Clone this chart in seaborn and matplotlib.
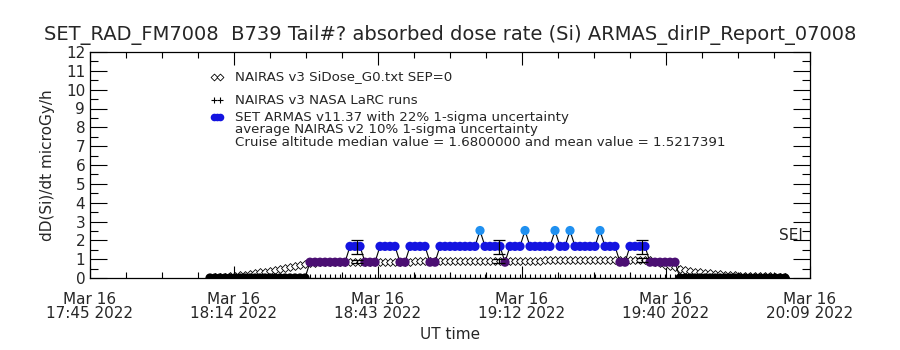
import matplotlib
matplotlib.use('Agg')
import matplotlib.pyplot as plt
import seaborn as sns
import pandas as pd
import numpy as np

# time axis: minutes after 17:45 UT, Mar 16 2022 (one sample per minute)
armas_t = list(range(24, 140))

# SET ARMAS absorbed dose rate (microGy/h)
armas_dose = [
    0, 0, 0, 0, 0, 0, 0, 0, 0, 0, 0, 0, 0, 0, 0, 0, 0, 0, 0, 0,
    0.84, 0.84, 0.84, 0.84, 0.84, 0.84, 0.84, 0.84,
    1.68, 1.68, 1.68,
    0.84, 0.84, 0.84,
    1.68, 1.68, 1.68, 1.68,
    0.84, 0.84,
    1.68, 1.68, 1.68, 1.68,
    0.84, 0.84,
    1.68, 1.68, 1.68, 1.68, 1.68, 1.68, 1.68, 1.68,
    2.52,
    1.68, 1.68, 1.68, 1.68,
    0.84,
    1.68, 1.68, 1.68,
    2.52,
    1.68, 1.68, 1.68, 1.68, 1.68,
    2.52,
    1.68, 1.68,
    2.52,
    1.68, 1.68, 1.68, 1.68, 1.68,
    2.52,
    1.68, 1.68, 1.68,
    0.84, 0.84,
    1.68, 1.68, 1.68, 1.68,
    0.84, 0.84, 0.84, 0.84, 0.84, 0.84,
    0, 0, 0, 0, 0, 0, 0, 0, 0, 0, 0, 0, 0, 0, 0, 0, 0, 0, 0, 0, 0, 0,
]

# NAIRAS v3 SiDose_G0.txt, same minutes
nairas_dose = [
    0.02, 0.03, 0.05, 0.07, 0.09, 0.12, 0.15, 0.18, 0.22, 0.26, 0.30,
    0.34, 0.38, 0.43, 0.48, 0.53, 0.58, 0.64, 0.69, 0.74, 0.79,
    0.82, 0.83, 0.83, 0.84, 0.84, 0.84, 0.85, 0.85, 0.85, 0.85, 0.86,
    0.86, 0.86, 0.86, 0.86, 0.87,
    0.87, 0.87, 0.87, 0.87, 0.88, 0.88, 0.88, 0.88, 0.88, 0.89, 0.89,
    0.89, 0.89, 0.89, 0.90, 0.90, 0.90, 0.90, 0.90, 0.90,
    0.91, 0.91, 0.91, 0.91, 0.91, 0.92, 0.92, 0.92, 0.92, 0.92, 0.93,
    0.93, 0.93, 0.93, 0.93, 0.94, 0.94, 0.94, 0.94, 0.94,
    0.95, 0.95, 0.95, 0.96, 0.96, 0.96, 0.97, 0.97, 0.97, 0.98, 0.98,
    0.95, 0.86, 0.78, 0.71, 0.64, 0.57, 0.50, 0.44, 0.39, 0.34, 0.30,
    0.27, 0.24, 0.22, 0.20, 0.18, 0.16, 0.15, 0.13, 0.12, 0.11, 0.10,
    0.09, 0.08, 0.08, 0.07, 0.07, 0.06,
]

# NAIRAS v3 NASA LaRC runs (no values -> plotted at zero)
larc_dose = [
    0, 0, 0, 0, 0, 0, 0, 0, 0, 0, 0, 0, 0, 0, 0, 0, 0, 0, 0, 0, 0, 0, 0, 0, 0, 0, 0, 0, 0,
    0, 0, 0, 0, 0, 0, 0, 0, 0, 0, 0, 0, 0, 0, 0, 0, 0, 0, 0, 0, 0, 0, 0, 0, 0, 0, 0, 0, 0,
    0, 0, 0, 0, 0, 0, 0, 0, 0, 0, 0, 0, 0, 0, 0, 0, 0, 0, 0, 0, 0, 0, 0, 0, 0, 0, 0, 0, 0,
    0, 0, 0, 0, 0, 0, 0, 0, 0, 0, 0, 0, 0, 0, 0, 0, 0, 0, 0, 0, 0, 0, 0, 0, 0, 0, 0, 0, 0,
]

# uncertainty bars
err_t = [53.4, 81.8, 110.4]
armas_err_dose = [1.66, 1.66, 1.66]
armas_err = [0.37, 0.37, 0.37]
nairas_err_dose = [0.86, 0.91, 0.97]
nairas_err = [0.09, 0.09, 0.10]

xtick_labels = ['Mar 16\n17:45 2022', 'Mar 16\n18:14 2022', 'Mar 16\n18:43 2022',
                'Mar 16\n19:12 2022', 'Mar 16\n19:40 2022', 'Mar 16\n20:09 2022']

level_colors = {0: '#000000', 0.84: '#4b0f73', 1.68: '#1414e0', 2.52: '#2090f0'}

df = pd.DataFrame({'t': armas_t, 'armas': armas_dose, 'nairas': nairas_dose, 'larc': larc_dose})
df['level'] = df['armas'].astype(float)

sns.set_style('ticks')
plt.rcParams['font.family'] = ['DejaVu Sans']

W, H = 900, 350
fig = plt.figure(figsize=(9, 3.5), dpi=100)
ax = fig.add_axes([90 / W, 1 - 278 / H, 720 / W, 226 / H])

sns.scatterplot(data=df, x='t', y='nairas', marker='D', s=16, color='white',
                edgecolor='black', linewidth=0.6, ax=ax, zorder=2, legend=False)
sns.scatterplot(data=df, x='t', y='larc', marker='+', s=30, color='black',
                linewidth=0.8, ax=ax, zorder=2, legend=False)
sns.lineplot(data=df, x='t', y='armas', color='black', linewidth=0.8, sort=False,
             estimator=None, ax=ax, zorder=3, legend=False)
sns.scatterplot(data=df, x='t', y='armas', hue='level', palette=level_colors,
                s=44, linewidth=0, ax=ax, zorder=4, legend=False)
ax.errorbar(err_t, armas_err_dose, yerr=armas_err, fmt='none', ecolor='black',
            elinewidth=0.9, capsize=4, capthick=0.9, zorder=5)
ax.errorbar(err_t, nairas_err_dose, yerr=nairas_err, fmt='none', ecolor='black',
            elinewidth=0.9, capsize=4, capthick=0.9, zorder=5)

ax.set_xlim(0, 144)
ax.set_ylim(0, 12)
ax.set_xticks(np.linspace(0, 144, len(xtick_labels)))
ax.set_xticklabels(xtick_labels, fontsize=11, linespacing=0.95)
ax.set_xticks(np.arange(0, 144.01, 7.2), minor=True)
ax.set_yticks(range(0, 13))
ax.set_yticklabels([str(v) for v in range(0, 13)], fontsize=11)
ax.set_yticks(np.arange(0, 12.01, 0.5), minor=True)
ax.tick_params(axis='both', which='both', direction='in', top=True, right=True,
               color='black', width=0.8)
ax.tick_params(axis='y', which='major', length=12)
ax.tick_params(axis='y', which='minor', length=6)
ax.tick_params(axis='x', which='major', length=9, pad=10)
ax.tick_params(axis='x', which='minor', length=4)
for s in ax.spines.values():
    s.set_linewidth(0.9)
    s.set_color('black')

ax.set_xlabel('UT time', fontsize=11, labelpad=4)
ax.set_ylabel('dD(Si)/dt microGy/h', fontsize=11, labelpad=8)
fig.text(0.5, 1 - 35 / H, 'SET_RAD_FM7008  B739 Tail#? absorbed dose rate (Si) ARMAS_dirIP_Report_07008',
         ha='center', va='center', fontsize=14)

# legend block
lx, sx = 235 / W, 217 / W
fs = 9.6
ly = [77, 100, 117, 130, 143]
fig.text(lx, 1 - ly[0] / H, 'NAIRAS v3 SiDose_G0.txt SEP=0', va='center', fontsize=fs)
fig.text(lx, 1 - ly[1] / H, 'NAIRAS v3 NASA LaRC runs', va='center', fontsize=fs)
fig.text(lx, 1 - ly[2] / H, 'SET ARMAS v11.37 with 22% 1-sigma uncertainty', va='center', fontsize=fs)
fig.text(lx, 1 - ly[3] / H, 'average NAIRAS v2 10% 1-sigma uncertainty', va='center', fontsize=fs)
fig.text(lx, 1 - ly[4] / H, 'Cruise altitude median value = 1.6800000 and mean value = 1.5217391',
         va='center', fontsize=fs)
ax.scatter([sx - 3 / W, sx + 3 / W], [1 - ly[0] / H] * 2, marker='D', s=12, facecolor='white',
           edgecolor='black', linewidth=0.6, transform=fig.transFigure, clip_on=False)
ax.scatter([sx - 3 / W, sx + 3 / W], [1 - ly[1] / H] * 2, marker='+', s=25, color='black',
           linewidth=0.8, transform=fig.transFigure, clip_on=False)
ax.scatter([sx - 3 / W, sx, sx + 3 / W], [1 - ly[2] / H] * 3, marker='o', s=30, color='#1414e0',
           linewidth=0, transform=fig.transFigure, clip_on=False)

fig.text(779 / W, 1 - 236 / H, 'SEI', va='center', ha='left', fontsize=11)

fig.savefig('out.png', dpi=100)
